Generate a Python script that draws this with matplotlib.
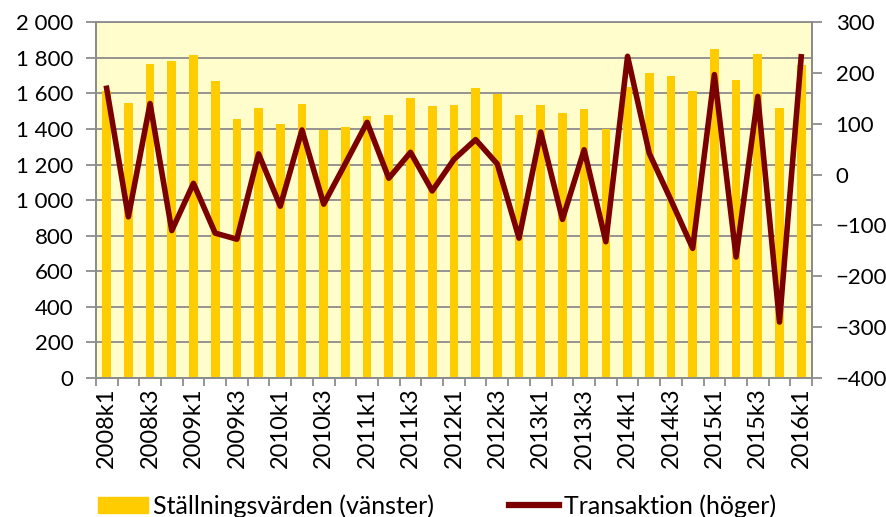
import numpy as np
import matplotlib.pyplot as plt
from matplotlib.patches import Patch
from matplotlib.lines import Line2D
from matplotlib.ticker import FuncFormatter

plt.rcParams['font.family'] = ['Lato', 'DejaVu Sans']

# kvartal 2008k1 .. 2016k1
kvartal = [f"{y}k{q}" for y in range(2008, 2017) for q in range(1, 5)][:33]

stallning = [1615, 1546, 1764, 1780, 1817, 1669, 1456, 1518, 1426, 1540, 1394,
             1411, 1472, 1477, 1574, 1531, 1535, 1632, 1596, 1477, 1536, 1488,
             1514, 1402, 1637, 1712, 1697, 1611, 1852, 1675, 1824, 1516, 1757]

transaktion = [170, -83, 140, -110, -17, -115, -127, 41, -62, 88, -58,
               22, 103, -7, 44, -32, 30, 69, 21, -125, 84, -88,
               49, -132, 233, 42, -50, -145, 197, -162, 154, -290, 232]

gul = "#FFCC00"
rod = "#7B0000"
gra = "#8C8C8C"

fig = plt.figure(figsize=(8.87, 5.17), dpi=100)
ax = fig.add_axes([0.108, 0.269, 0.8075, 0.688])
ax.set_facecolor("#FFFDCC")

x = np.arange(len(kvartal))
ax.bar(x, stallning, width=0.4, color=gul, zorder=2)
ax.set_xlim(-0.5, len(kvartal) - 0.5)
ax.set_ylim(0, 2000)
ax.set_yticks(np.arange(0, 2001, 200))
ax.yaxis.set_major_formatter(FuncFormatter(lambda v, p: f"{int(v):,}".replace(",", " ")))
ax.grid(axis="y", color=gra, lw=1.3, zorder=1)
ax.set_axisbelow(True)

ax.set_xticks(x[::2])
ax.set_xticklabels(kvartal[::2], rotation=90)
ax.set_xticks(np.arange(-0.5, len(kvartal)), minor=True)
ax.tick_params(axis="x", which="major", length=0, pad=7, labelsize=17)
ax.tick_params(axis="x", which="minor", length=6, color=gra, width=1.3)
ax.tick_params(axis="y", length=7, color=gra, width=1.3, labelsize=16, pad=9)

ax2 = ax.twinx()
ax2.plot(x, transaktion, color=rod, lw=4, solid_joinstyle="round", zorder=3)
ax2.set_ylim(-400, 300)
ax2.set_yticks(np.arange(-400, 301, 100))
ax2.tick_params(axis="y", length=7, color=gra, width=1.3, labelsize=16, pad=10)

for a in (ax, ax2):
    for s in a.spines.values():
        s.set_color(gra)
        s.set_linewidth(1.3)
ax2.spines["top"].set_visible(False)

handles = [Patch(color=gul), Line2D([0], [0], color=rod, lw=4.5)]
fig.legend(handles, ["Ställningsvärden (vänster)", "Transaktion (höger)"],
           loc="lower left", bbox_to_anchor=(0.085, -0.045), ncol=2,
           frameon=False, fontsize=18, columnspacing=3.0,
           handlelength=2.0, handleheight=0.6, handletextpad=0.2)

fig.savefig("out.png", dpi=100)
